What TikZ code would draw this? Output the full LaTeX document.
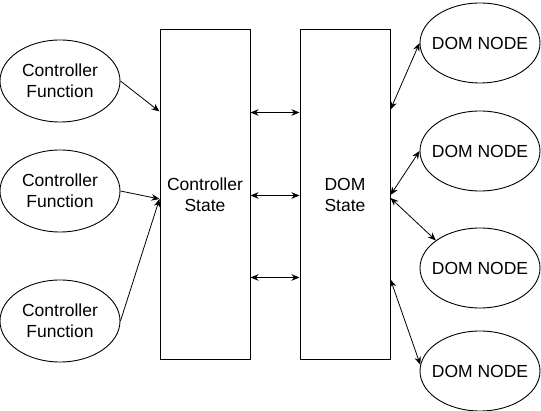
\documentclass[tikz,border=0pt]{standalone}
\usepackage{fontspec}
\setmainfont{Liberation Sans}
\usetikzlibrary{shapes.geometric, arrows.meta, calc}

\tikzset{
	fn/.style={draw, ellipse, line width=0.9pt, minimum width=120pt, minimum height=82pt, inner sep=0pt, align=center},
	domnode/.style={draw, ellipse, line width=0.9pt, minimum width=120pt, minimum height=80pt, inner xsep=-20pt, inner ysep=0pt, align=center},
	statebox/.style={draw, rectangle, line width=1pt, minimum width=90pt, minimum height=330pt, inner sep=0pt, align=center},
	link/.style={line width=0.8pt, -{Stealth[length=8pt,width=6.5pt]}},
	dlink/.style={line width=0.8pt, {Stealth[length=8pt,width=6.5pt]}-{Stealth[length=8pt,width=6.5pt]}}
}

\begin{document}
\begin{tikzpicture}[x=1pt, y=-1pt, font=\fontsize{17.5}{21}\selectfont]%坐标按像素

	\useasboundingbox [fill=white] (0,0) rectangle (541,411);%边界

	\node [fn] (f1) at (60,81) {Controller\\Function};%控制函数
	\node [fn] (f2) at (60,191) {Controller\\Function};
	\node [fn] (f3) at (60,321) {Controller\\Function};

	\node [statebox] (cs) at (205,195) {Controller\\State};%控制状态
	\node [statebox] (ds) at (345,195) {DOM\\State};%DOM状态

	\node [domnode] (d1) at (480,43) {DOM NODE};%DOM节点
	\node [domnode] (d2) at (480,151) {DOM NODE};
	\node [domnode] (d3) at (480,268) {DOM NODE};
	\node [domnode] (d4) at (480,371) {DOM NODE};

	\draw [link] (f1.east)--($(cs.north west)+(0,82)$);%函数到状态
	\draw [link] (f2.east)--($(cs.west)+(0,4)$);
	\draw [link] (f3.east)--($(cs.west)+(0,4)$);

	\foreach \i in {83,166,248}
	\draw [dlink] ($(cs.north east)+(0,\i)$)--($(ds.north west)+(0,\i)$);%状态之间

	\draw [dlink] ($(ds.north east)+(0,80)$)--(d1.west);%状态到节点
	\draw [dlink] ($(ds.east)+(0,0)$)--(d2.west);
	\draw [dlink] ($(ds.east)+(0,3)$)--(d3.148);
	\draw [dlink] ($(ds.north east)+(0,250)$)--(d4.174);
\end{tikzpicture}
\end{document}
